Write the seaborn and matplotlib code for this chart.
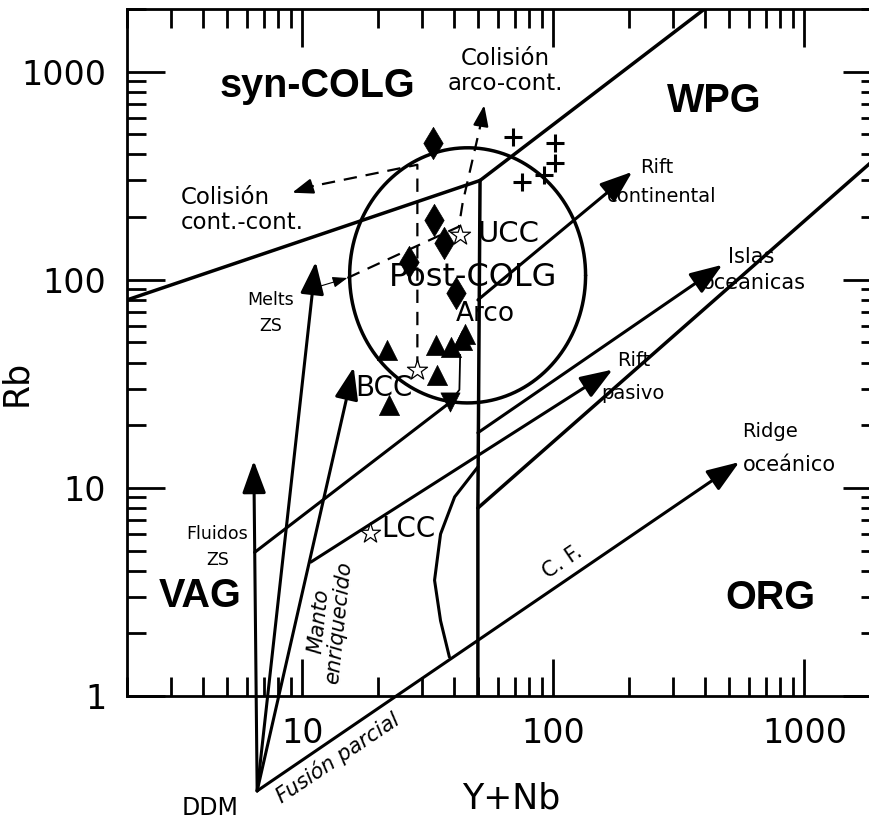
import numpy as np
import pandas as pd
import matplotlib
matplotlib.use("Agg")
import matplotlib.pyplot as plt
from matplotlib.ticker import NullFormatter
import seaborn as sns

# ---------------- data (Y+Nb, Rb) ----------------
# tectonic field boundaries
vag_syncolg_x = [2, 51]
vag_syncolg_y = [80, 300]
syncolg_wpg_x = [51, 400]
syncolg_wpg_y = [300, 2000]
vag_org_x = [51, 50, 50]
vag_org_y = [300, 8, 1]
wpg_org_x = [50, 2000]
wpg_org_y = [8, 400]

# post-collisional field (centre and semi-axes in decades)
postcolg_center = (45.5, 105)
postcolg_semi_axes = (0.47, 0.613)

# samples
diamond_x = [33, 33.3, 36.8, 26.7, 41]
diamond_y = [456, 194, 151, 122, 86]
triangle_x = [21.8, 22.2, 34.5, 34.2, 38.9, 43.4, 44.5]
triangle_y = [46, 25, 35, 48.7, 47.6, 51.5, 55]
down_triangle_x = [38.8]
down_triangle_y = [26]
plus_x = [69, 101, 101, 75, 92]
plus_y = [487, 456, 365, 296, 320]

# crustal reference compositions
crust_names = ["UCC", "BCC", "LCC"]
crust_x = [42.6, 28.7, 18.5]
crust_y = [165, 37, 6.1]

# source vectors starting at depleted mantle
ddm = (6.6, 0.35)
fluids_tip = (6.4, 13.5)
melts_tip = (11.3, 122)
enriched_tip = (16, 38)
ridge_tip = (550, 13.3)

# fractionation trends
fluids_trend = [(6.45, 4.9), (38.5, 25.6)]
passive_rift = [(10.8, 4.4), (172, 37)]
ocean_islands = [(50, 18.4), (471, 118)]
cont_rift = [(50, 80), (206, 330)]
arc_tie_x = [38.5, 42.2, 42.5]
arc_tie_y = [25.6, 29.6, 43.6]
cf_curve_x = [38.5, 35.5, 33.6, 35.5, 40.4, 50]
cf_curve_y = [1.54, 2.3, 3.6, 6.0, 9.05, 12.6]

# collision paths
arc_cont_x = [11.7, 15.1]
arc_cont_y = [93, 102]
arc_cont_dash_x = [15.1, 42, 43.5, 52]
arc_cont_dash_y = [102, 180, 235, 600]
arc_cont_tip = (53, 690)
cont_cont_dash_x = [28.7, 28.7, 11]
cont_cont_dash_y = [37, 357, 282]
cont_cont_tip = (9.1, 262)

x_ticks = [10, 100, 1000]
x_tick_labels = ["10", "100", "1000"]
y_ticks = [1, 10, 100, 1000]
y_tick_labels = ["1", "10", "100", "1000"]

# ---------------- style ----------------
sns.set_theme(style="ticks", rc={
    "axes.edgecolor": "black", "xtick.color": "black", "ytick.color": "black",
    "text.color": "black", "axes.labelcolor": "black",
})
plt.rcParams["font.family"] = ["DejaVu Sans"]

fig = plt.figure(figsize=(8.7, 8.22), dpi=100)
ax = fig.add_axes([127 / 870, 126 / 822, 753 / 870, 687 / 822])
ax.set_xscale("log")
ax.set_yscale("log")
ax.set_xlim(2, 2000)
ax.set_ylim(1, 2000)

LW = 2.5
K = "black"

def seg(xs, ys, lw=LW, ls="-", clip=True):
    ax.plot(xs, ys, color=K, lw=lw, ls=ls, solid_capstyle="round",
            clip_on=clip)

def arrow(tail, tip, lw=2.2, scale=22):
    ax.annotate("", xy=tip, xytext=tail, xycoords="data", textcoords="data",
                annotation_clip=False,
                arrowprops=dict(arrowstyle="-|>,head_length=0.9,head_width=0.33",
                                color=K, lw=lw, shrinkA=0, shrinkB=0,
                                mutation_scale=scale))

# field boundaries
seg(vag_syncolg_x, vag_syncolg_y)
seg(syncolg_wpg_x, syncolg_wpg_y)
seg(vag_org_x, vag_org_y)
seg(wpg_org_x, wpg_org_y)

# post-COLG ellipse
t = np.linspace(0, 2 * np.pi, 300)
ex = 10 ** (np.log10(postcolg_center[0]) + postcolg_semi_axes[0] * np.cos(t))
ey = 10 ** (np.log10(postcolg_center[1]) + postcolg_semi_axes[1] * np.sin(t))
ax.plot(ex, ey, color=K, lw=LW)

# vectors from DDM
arrow(ddm, fluids_tip)
arrow(ddm, melts_tip)
arrow(ddm, enriched_tip)
arrow(ddm, ridge_tip)

# trends
seg([p[0] for p in fluids_trend], [p[1] for p in fluids_trend], lw=2.2)
arrow(passive_rift[0], passive_rift[1])
arrow(ocean_islands[0], ocean_islands[1])
arrow(cont_rift[0], cont_rift[1])
seg(arc_tie_x, arc_tie_y, lw=1.3)
seg(cf_curve_x, cf_curve_y, lw=2.2)

# collision paths
arrow((arc_cont_x[0], arc_cont_y[0]), (arc_cont_x[1], arc_cont_y[1]), lw=0.8, scale=10)
seg(arc_cont_dash_x, arc_cont_dash_y, lw=1.6, ls=(0, (6, 4)))
arrow((arc_cont_dash_x[-1], arc_cont_dash_y[-1]), arc_cont_tip, lw=1.6, scale=14)
seg(cont_cont_dash_x, cont_cont_dash_y, lw=1.6, ls=(0, (6, 4)))
arrow((cont_cont_dash_x[-1], cont_cont_dash_y[-1]), cont_cont_tip, lw=1.6, scale=14)

# samples
sns.scatterplot(x=diamond_x, y=diamond_y, marker="d", s=270, color=K,
                edgecolor=K, linewidth=0.5, ax=ax, zorder=5)
sns.scatterplot(x=triangle_x, y=triangle_y, marker="^", s=210, color=K,
                edgecolor=K, linewidth=0.5, ax=ax, zorder=5)
sns.scatterplot(x=down_triangle_x, y=down_triangle_y, marker="v", s=190,
                color=K, edgecolor=K, linewidth=0.5, ax=ax, zorder=5)
sns.scatterplot(x=plus_x, y=plus_y, marker="+", s=170, color=K,
                linewidth=2.2, ax=ax, zorder=5)
sns.scatterplot(x=crust_x, y=crust_y, marker="*", s=230, color="white",
                edgecolor=K, linewidth=0.9, ax=ax, zorder=6)

# ---------------- labels ----------------
big = dict(fontsize=28.5, fontweight="heavy", family=["Liberation Sans", "DejaVu Sans"],
           ha="center", va="center")
ax.text(11.5, 857, "syn-COLG", **big)
ax.text(437, 726, "WPG", **big)
ax.text(3.93, 3.02, "VAG", **big)
ax.text(733, 2.96, "ORG", **big)

ax.text(48, 103, "Post-COLG", fontsize=23, ha="center", va="center")
ax.text(53.6, 68.7, "Arco", fontsize=19, ha="center", va="center")
ax.text(66.2, 166, "UCC", fontsize=21, ha="center", va="center")
ax.text(21.2, 30.2, "BCC", fontsize=20, ha="center", va="center")
ax.text(26.4, 6.35, "LCC", fontsize=20, ha="center", va="center")

ax.text(3.27, 217, "Colisión\ncont.-cont.", fontsize=16.5, ha="left",
        va="center", linespacing=1.1)
ax.text(64.4, 1011, "Colisión\narco-cont.", fontsize=16.5, ha="center",
        va="center", linespacing=1.1)
ax.text(7.46, 69.4, "Melts\nZS", fontsize=12.5, ha="center", va="center",
        linespacing=1.6)
ax.text(4.58, 5.2, "Fluidos\nZS", fontsize=12.5, ha="center", va="center",
        linespacing=1.6)
ax.text(12.7, 2.27, "Manto\nenriquecido", fontsize=15, style="italic",
        rotation=84, ha="center", va="center", linespacing=1.0)
ax.text(13.8, 0.503, "Fusión parcial", fontsize=15, style="italic",
        rotation=34, ha="center", va="center", rotation_mode="anchor")
ax.text(109, 4.41, "C. F.", fontsize=15, rotation=34, ha="center",
        va="center", rotation_mode="anchor")
ax.text(259, 345, "Rift", fontsize=14, ha="center", va="center")
ax.text(269, 251, "continental", fontsize=14, ha="center", va="center")
ax.text(615, 129, "Islas", fontsize=15, ha="center", va="center")
ax.text(627, 96.8, "oceánicas", fontsize=15, ha="center", va="center")
ax.text(208, 40.8, "Rift", fontsize=14, ha="center", va="center")
ax.text(208, 28.3, "pasivo", fontsize=14, ha="center", va="center")
ax.text(566, 18.6, "Ridge", fontsize=14, ha="left", va="center")
ax.text(566, 12.9, "oceánico", fontsize=15, ha="left", va="center")
ax.text(4.3, 0.29, "DDM", fontsize=17, ha="center", va="center")

# ---------------- axes ----------------
ax.set_xticks(x_ticks)
ax.set_xticklabels(x_tick_labels)
ax.set_yticks(y_ticks)
ax.set_yticklabels(y_tick_labels)
ax.xaxis.set_minor_formatter(NullFormatter())
ax.yaxis.set_minor_formatter(NullFormatter())
ax.tick_params(which="both", direction="in", top=True, right=True, width=2,
               labelsize=24)
ax.tick_params(which="major", length=27, pad=15)
ax.tick_params(which="minor", length=14)
for s in ax.spines.values():
    s.set_linewidth(2)
    s.set_color(K)

ax.set_xlabel("Y+Nb", fontsize=25)
ax.set_ylabel("Rb", fontsize=25)
ax.xaxis.set_label_coords(0.51, -0.125)
ax.yaxis.set_label_coords(-0.125, 0.456)

fig.savefig("out.png", dpi=100, facecolor="white")
